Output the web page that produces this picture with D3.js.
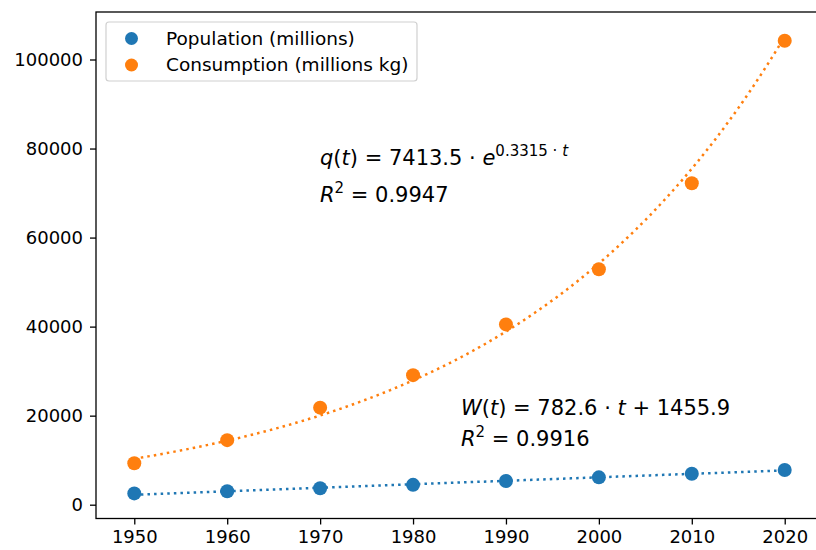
<!DOCTYPE html>
<html>
<head>
<meta charset="utf-8">
<script src="https://cdn.jsdelivr.net/npm/d3@7"></script>
<style>
  body { margin: 0; background: #fff; }
  svg { display: block; font-family: "DejaVu Sans", sans-serif; }
</style>
</head>
<body>
<div id="chart"></div>
<script>
const years = [1950, 1960, 1970, 1980, 1990, 2000, 2010, 2020];
const population = [2540, 3030, 3700, 4460, 5330, 6140, 6960, 7790];
const consumption = [9300, 14500, 21800, 29100, 40500, 52900, 72200, 104200];
const xTicks = [1950, 1960, 1970, 1980, 1990, 2000, 2010, 2020];
const yTicks = [0, 20000, 40000, 60000, 80000, 100000];
const seriesNames = ['Population (millions)', 'Consumption (millions kg)'];
const seriesColors = ['#1f77b4', '#ff7f0e'];

// fitted models shown on the chart, t = 1 for 1950 ... 8 for 2020
const linFit = { slope: 782.6, intercept: 1455.9, r2: 0.9916 };
const expFit = { a: 7413.5, b: 0.3315, r2: 0.9947 };

const width = 816, height = 550;
const plotLeft = 96, plotTop = 12, plotBottom = 518.5, plotRight = 823;

const svg = d3.select('#chart').append('svg')
  .attr('width', width)
  .attr('height', height);

const x = d3.scaleLinear().domain([1945.88, 2024.12]).range([plotLeft, plotRight]);
const y = d3.scaleLinear().domain([-3100, 110670]).range([plotBottom, plotTop]);

// fit curves
const tOf = yr => (yr - 1940) / 10;
const fitYears = d3.range(0, 141).map(i => 1950 + i * 0.5);
const line = d3.line().x(d => x(d[0])).y(d => y(d[1]));

svg.append('path')
  .datum(fitYears.map(yr => [yr, linFit.slope * tOf(yr) + linFit.intercept]))
  .attr('d', line)
  .attr('fill', 'none')
  .attr('stroke', seriesColors[0])
  .attr('stroke-width', 2.5)
  .attr('stroke-dasharray', '2.5,4.1');

svg.append('path')
  .datum(fitYears.map(yr => [yr, expFit.a * Math.exp(expFit.b * tOf(yr))]))
  .attr('d', line)
  .attr('fill', 'none')
  .attr('stroke', seriesColors[1])
  .attr('stroke-width', 2.5)
  .attr('stroke-dasharray', '2.5,4.1');

// points
[population, consumption].forEach((vals, i) => {
  svg.append('g').selectAll('circle')
    .data(vals)
    .join('circle')
    .attr('cx', (d, j) => x(years[j]))
    .attr('cy', d => y(d))
    .attr('r', 7)
    .attr('fill', seriesColors[i]);
});

// axes
const xAxis = svg.append('g')
  .attr('transform', `translate(0,${plotBottom})`)
  .call(d3.axisBottom(x).tickValues(xTicks).tickFormat(d3.format('d')).tickSize(6).tickPadding(6));
const yAxis = svg.append('g')
  .attr('transform', `translate(${plotLeft},0)`)
  .call(d3.axisLeft(y).tickValues(yTicks).tickFormat(d3.format('d')).tickSize(6).tickPadding(7));

[xAxis, yAxis].forEach(g => {
  g.selectAll('text')
    .attr('fill', '#000')
    .style('font-size', '18px')
    .style('font-family', '"DejaVu Sans", sans-serif');
  g.selectAll('line').attr('stroke', '#000').attr('stroke-width', 1.3);
  g.select('.domain').remove();
});

// spines
svg.append('rect')
  .attr('x', plotLeft)
  .attr('y', plotTop)
  .attr('width', plotRight - plotLeft)
  .attr('height', plotBottom - plotTop)
  .attr('fill', 'none')
  .attr('stroke', '#000')
  .attr('stroke-width', 1.3);

// legend
const legend = svg.append('g');
legend.append('rect')
  .attr('x', 106).attr('y', 22)
  .attr('width', 311).attr('height', 59)
  .attr('rx', 3)
  .attr('fill', 'rgba(255,255,255,0.8)')
  .attr('stroke', '#d0d0d0')
  .attr('stroke-width', 1.2);
seriesNames.forEach((name, i) => {
  legend.append('circle')
    .attr('cx', 131.5).attr('cy', 38.5 + i * 26.5)
    .attr('r', 6.5)
    .attr('fill', seriesColors[i]);
  legend.append('text')
    .attr('x', 166).attr('y', 44.5 + i * 26.5)
    .style('font-size', '18.5px')
    .text(name);
});

// equations
function mathLine(xPos, yPos, parts) {
  const t = svg.append('text')
    .attr('x', xPos).attr('y', yPos)
    .style('font-size', '21px')
    .attr('fill', '#000');
  parts.forEach(p => {
    const s = t.append('tspan').text(p.s);
    if (p.i) s.style('font-style', 'italic');
    if (p.sup) s.style('font-size', '15px').attr('dy', p.dy || 0);
    else if (p.dy) s.attr('dy', p.dy);
  });
}

mathLine(320, 165, [
  { s: 'q', i: true }, { s: '(' }, { s: 't', i: true }, { s: ') = ' + expFit.a.toFixed(1) + ' · ' },
  { s: 'e', i: true }, { s: expFit.b.toFixed(4) + ' · ', sup: true, dy: -9 }, { s: 't', i: true, sup: true }
]);
mathLine(320, 202, [
  { s: 'R', i: true }, { s: '2', sup: true, dy: -9 }, { s: ' = ' + expFit.r2.toFixed(4), dy: 9 }
]);
mathLine(461, 415, [
  { s: 'W', i: true }, { s: '(' }, { s: 't', i: true },
  { s: ') = ' + linFit.slope.toFixed(1) + ' · ' }, { s: 't', i: true }, { s: ' + ' + linFit.intercept.toFixed(1) }
]);
mathLine(461, 446, [
  { s: 'R', i: true }, { s: '2', sup: true, dy: -9 }, { s: ' = ' + linFit.r2.toFixed(4), dy: 9 }
]);
</script>
</body>
</html>
